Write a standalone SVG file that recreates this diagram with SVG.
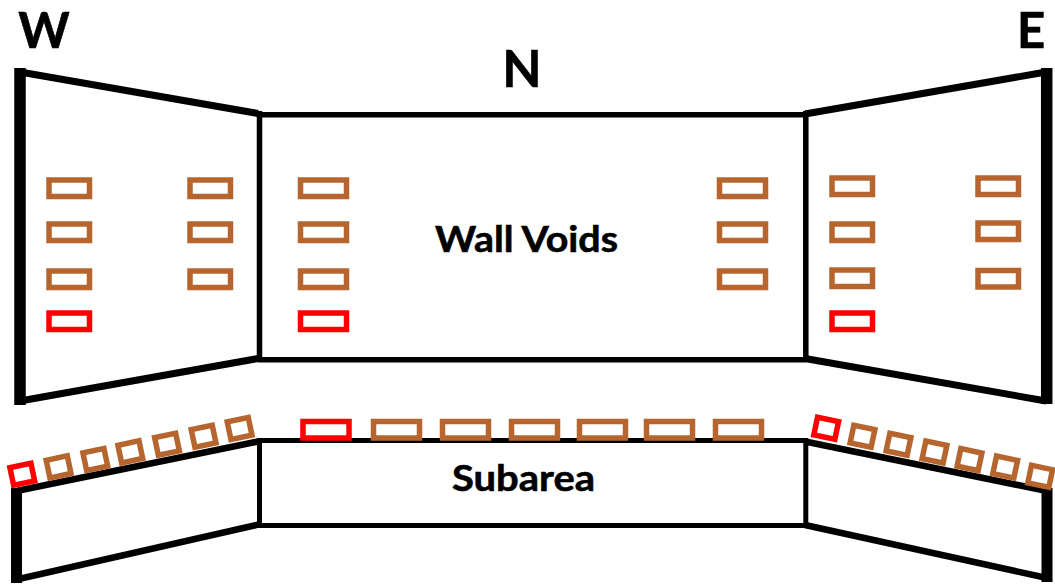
<svg xmlns="http://www.w3.org/2000/svg" width="1055" height="584" viewBox="0 0 1055 584">
<defs>
<rect id="sq" x="-10.5" y="-8.75" width="21.5" height="18"/>
<rect id="a" width="40.5" height="16.5"/>
<rect id="c" width="46" height="16.5"/>
</defs>
<style>
.l{fill:none;stroke:#000;stroke-linecap:butt}
.b{fill:none;stroke:#b5652d;stroke-width:5.5}
.r{fill:none;stroke:#f00;stroke-width:5.5}
text{font-family:Lato,"Open Sans",sans-serif;font-weight:700;fill:#000;stroke:#000;stroke-width:.6}
</style>
<rect width="1055" height="584" fill="#fff"/>
<g id="walls">
<path class="l" stroke-width="7" d="M20 72L258 113.5M20 401L258 358.5M805 114L1046 72M805 358.5L1046 401"/>
<path class="l" stroke-width="5.5" d="M258 114.7H806M258 359.7H806M259.5 111V362M805.8 111V362"/>
<path class="l" stroke-width="11.5" d="M20 68V405M1046.7 68V404"/>
</g>
<g id="subarea">
<path class="l" stroke-width="6.5" d="M16.5 491L258 441.5M16.5 579.5L258 524.7M805 441.5L1047 491M805 525L1047 578"/>
<path class="l" stroke-width="5" d="M258 440.5H806M258 525.5H806M259.5 438V528M805.8 438V528"/>
<path class="l" stroke-width="11" d="M16.5 488V583M1047 488V582"/>
</g>
<g id="labels">
<text x="44" y="48" font-size="49" text-anchor="middle">W</text>
<text x="522" y="87" font-size="51" text-anchor="middle">N</text>
<text x="1031" y="48" font-size="49" text-anchor="middle">E</text>
<text x="435" y="252" font-size="37" textLength="183" lengthAdjust="spacingAndGlyphs">Wall Voids</text>
<text x="452" y="491" font-size="37" textLength="143" lengthAdjust="spacingAndGlyphs">Subarea</text>
</g>
<g id="vents">
<use href="#a" class="b" x="49" y="180"/><use href="#a" class="b" x="49" y="224"/><use href="#a" class="b" x="49" y="271"/><use href="#a" class="r" x="49" y="313"/>
<use href="#a" class="b" x="190" y="180"/><use href="#a" class="b" x="190" y="224"/><use href="#a" class="b" x="190" y="271"/>
<use href="#c" class="b" x="300.5" y="180"/><use href="#c" class="b" x="300.5" y="224"/><use href="#c" class="b" x="300.5" y="271"/><use href="#c" class="r" x="300.5" y="313"/>
<use href="#c" class="b" x="719.5" y="180"/><use href="#c" class="b" x="719.5" y="224"/><use href="#c" class="b" x="719.5" y="271"/>
<use href="#a" class="b" x="832" y="178"/><use href="#a" class="b" x="832" y="224"/><use href="#a" class="b" x="832" y="270"/><use href="#a" class="r" x="832" y="313"/>
<use href="#a" class="b" x="978" y="178"/><use href="#a" class="b" x="978" y="223"/><use href="#a" class="b" x="978" y="270.5"/>
<use href="#c" class="r" x="303" y="421.5"/>
<use href="#c" class="b" x="373.5" y="421.5"/><use href="#c" class="b" x="442.5" y="421.5"/><use href="#c" class="b" x="511.5" y="421.5"/><use href="#c" class="b" x="579.5" y="421.5"/><use href="#c" class="b" x="646.5" y="421.5"/><use href="#c" class="b" x="715.5" y="421.5"/>
<use href="#sq" class="r" transform="translate(22 474) rotate(-12)"/>
<use href="#sq" class="b" transform="translate(58.3 466.7) rotate(-12)"/>
<use href="#sq" class="b" transform="translate(95 459.3) rotate(-12)"/>
<use href="#sq" class="b" transform="translate(130 451.7) rotate(-12)"/>
<use href="#sq" class="b" transform="translate(166.7 444) rotate(-12)"/>
<use href="#sq" class="b" transform="translate(203.3 436) rotate(-12)"/>
<use href="#sq" class="b" transform="translate(239.3 428.3) rotate(-12)"/>
<use href="#sq" class="r" transform="translate(826 428) rotate(12)"/>
<use href="#sq" class="b" transform="translate(862.3 436) rotate(12)"/>
<use href="#sq" class="b" transform="translate(898.3 444) rotate(12)"/>
<use href="#sq" class="b" transform="translate(934.3 451.7) rotate(12)"/>
<use href="#sq" class="b" transform="translate(969.3 459.3) rotate(12)"/>
<use href="#sq" class="b" transform="translate(1005 466.7) rotate(12)"/>
<use href="#sq" class="b" transform="translate(1040 476) rotate(12)"/>
</g>
</svg>
